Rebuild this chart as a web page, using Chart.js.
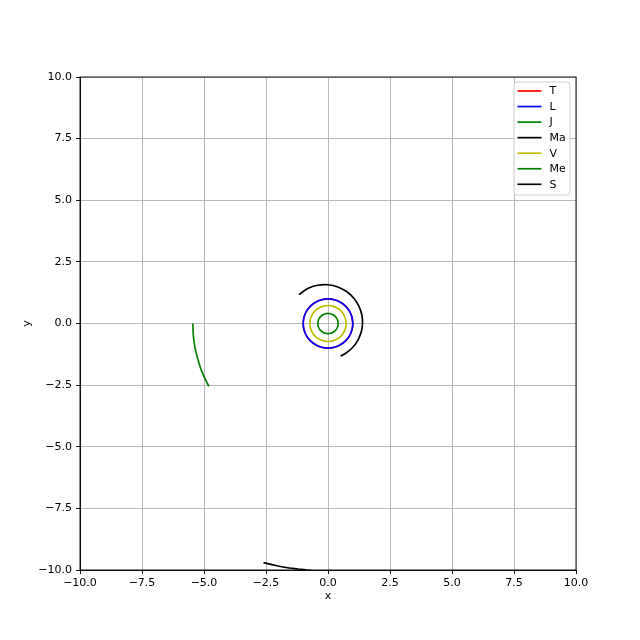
<!DOCTYPE html>
<html>
<head>
<meta charset="utf-8">
<script src="https://cdn.jsdelivr.net/npm/chart.js@4/dist/chart.umd.min.js"></script>
<style>
html,body{margin:0;padding:0;background:#fff;}
canvas{display:block;}
</style>
</head>
<body>
<canvas id="c" width="640" height="640"></canvas>
<script>
// ---- data ----
const seriesLabels = ['T', 'L', 'J', 'Ma', 'V', 'Me', 'S'];
const seriesColors = ['#ff0000', '#0000ff', '#008000', '#000000', '#bfbf00', '#008000', '#000000'];
const tickValues = [-10, -7.5, -5, -2.5, 0, 2.5, 5, 7.5, 10];

const terra = [[1,0],[0.966,0.259],[0.866,0.5],[0.707,0.707],[0.5,0.866],[0.259,0.966],[0,1],[-0.259,0.966],[-0.5,0.866],[-0.707,0.707],[-0.866,0.5],[-0.966,0.259],[-1,0],[-0.966,-0.259],[-0.866,-0.5],[-0.707,-0.707],[-0.5,-0.866],[-0.259,-0.966],[0,-1],[0.259,-0.966],[0.5,-0.866],[0.707,-0.707],[0.866,-0.5],[0.966,-0.259],[1,0],[0.966,0.259]];
const luna = [[1,0],[0.966,0.259],[0.866,0.5],[0.707,0.707],[0.5,0.866],[0.259,0.966],[0,1],[-0.259,0.966],[-0.5,0.866],[-0.707,0.707],[-0.866,0.5],[-0.966,0.259],[-1,0],[-0.966,-0.259],[-0.866,-0.5],[-0.707,-0.707],[-0.5,-0.866],[-0.259,-0.966],[0,-1],[0.259,-0.966],[0.5,-0.866],[0.707,-0.707],[0.866,-0.5],[0.966,-0.259],[1,0],[0.966,0.259]];
const jupiter = [[-5.45,0],[-5.43,-0.475],[-5.37,-0.946],[-5.26,-1.41],[-5.12,-1.86],[-4.93,-2.30],[-4.80,-2.55]];
const mars = [[-1.170,1.170],[-0.818,1.416],[-0.415,1.550],[0,1.571],[0.397,1.481],[0.748,1.296],[1.034,1.034],[1.240,0.716],[1.361,0.365],[1.392,0],[1.336,-0.358],[1.198,-0.692],[0.983,-0.983],[0.703,-1.217],[0.508,-1.323]];
const venus = [[0.73,0],[0.705,0.189],[0.632,0.365],[0.516,0.516],[0.365,0.632],[0.189,0.705],[0,0.73],[-0.189,0.705],[-0.365,0.632],[-0.516,0.516],[-0.632,0.365],[-0.705,0.189],[-0.73,0],[-0.705,-0.189],[-0.632,-0.365],[-0.516,-0.516],[-0.365,-0.632],[-0.189,-0.705],[0,-0.73],[0.189,-0.705],[0.365,-0.632],[0.516,-0.516],[0.632,-0.365],[0.705,-0.189],[0.73,0],[0.705,0.189]];
const mercury = [[0.41,0],[0.396,0.106],[0.355,0.205],[0.29,0.29],[0.205,0.355],[0.106,0.396],[0,0.41],[-0.106,0.396],[-0.205,0.355],[-0.29,0.29],[-0.355,0.205],[-0.396,0.106],[-0.41,0],[-0.396,-0.106],[-0.355,-0.205],[-0.29,-0.29],[-0.205,-0.355],[-0.106,-0.396],[0,-0.41],[0.106,-0.396],[0.205,-0.355],[0.29,-0.29],[0.355,-0.205],[0.396,-0.106],[0.41,0],[0.396,0.106]];
const saturn = [[-2.60,-9.70],[-2.26,-9.78],[-1.92,-9.86],[-1.57,-9.92],[-1.22,-9.96],[-0.88,-10.00],[-0.53,-10.03]];

const seriesData = [terra, luna, jupiter, mars, venus, mercury, saturn];

// ---- chart ----
const FONT = {family: 'DejaVu Sans', size: 11};
const fmt = v => (Math.abs(v) < 1e-9 ? 0 : v).toFixed(1).replace('-', '\u2212');

const whiteBg = {
  id: 'whiteBg',
  beforeDraw(chart) {
    const c = chart.ctx;
    c.save(); c.fillStyle = '#fff'; c.fillRect(0, 0, chart.width, chart.height); c.restore();
  }
};

const frame = {
  id: 'frame',
  afterDatasetsDraw(chart) {
    const a = chart.chartArea, c = chart.ctx;
    c.save();
    c.strokeStyle = '#000'; c.lineWidth = 0.9;
    c.strokeRect(a.left, a.top, a.right - a.left, a.bottom - a.top);
    c.restore();
  }
};

const legendBox = {
  id: 'legendBox',
  afterDraw(chart) {
    const a = chart.chartArea, c = chart.ctx;
    const w = 56, h = 113;
    const x = a.right - 6 - w, y = a.top + 5;
    c.save();
    c.beginPath();
    if (c.roundRect) c.roundRect(x, y, w, h, 3); else c.rect(x, y, w, h);
    c.fillStyle = 'rgba(255,255,255,0.8)';
    c.fill();
    c.strokeStyle = '#cccccc'; c.lineWidth = 0.9;
    c.stroke();
    c.font = '11px "DejaVu Sans"';
    c.textBaseline = 'middle';
    c.textAlign = 'left';
    chart.data.datasets.forEach((ds, i) => {
      const ry = y + 9 + i * 15.55;
      c.beginPath();
      c.moveTo(x + 3.5, ry); c.lineTo(x + 27.5, ry);
      c.strokeStyle = ds.borderColor; c.lineWidth = 1.67;
      c.stroke();
      c.fillStyle = '#000';
      c.fillText(ds.label, x + 35.5, ry + 0.5);
    });
    c.restore();
  }
};

new Chart(document.getElementById('c'), {
  type: 'scatter',
  data: {
    datasets: seriesLabels.map((lab, i) => ({
      label: lab,
      data: seriesData[i].map(p => ({x: p[0], y: p[1]})),
      borderColor: seriesColors[i],
      backgroundColor: seriesColors[i],
      showLine: true,
      pointRadius: 0,
      pointHoverRadius: 0,
      borderWidth: 1.67,
      tension: 0.35,
      fill: false,
      clip: 0,
      order: -i
    }))
  },
  options: {
    responsive: false,
    animation: false,
    events: [],
    layout: {padding: {top: 77, right: 64, left: 0, bottom: 0}},
    plugins: {legend: {display: false}, tooltip: {enabled: false}},
    scales: {
      x: {
        type: 'linear', position: 'bottom', min: -10, max: 10,
        afterBuildTicks: s => { s.ticks = tickValues.map(v => ({value: v})); },
        ticks: {color: '#000', font: FONT, padding: 3, maxRotation: 0, autoSkip: false, callback: fmt},
        grid: {color: '#b0b0b0', lineWidth: 0.9, tickColor: '#000', tickLength: 4, tickWidth: 0.9},
        border: {color: '#000', width: 0.9},
        title: {display: true, text: 'x', color: '#000', font: FONT, padding: {top: 0, bottom: 37}},
        afterFit: s => { s.height = 70; }
      },
      y: {
        type: 'linear', position: 'left', min: -10, max: 10,
        afterBuildTicks: s => { s.ticks = tickValues.map(v => ({value: v})); },
        ticks: {color: '#000', font: FONT, padding: 4, autoSkip: false, callback: fmt},
        grid: {color: '#b0b0b0', lineWidth: 0.9, tickColor: '#000', tickLength: 4, tickWidth: 0.9},
        border: {color: '#000', width: 0.9},
        title: {display: true, text: 'y', color: '#000', font: FONT, padding: {top: 21, bottom: 0}},
        afterFit: s => { s.width = 80; }
      }
    }
  },
  plugins: [whiteBg, frame, legendBox]
});
</script>
</body>
</html>
